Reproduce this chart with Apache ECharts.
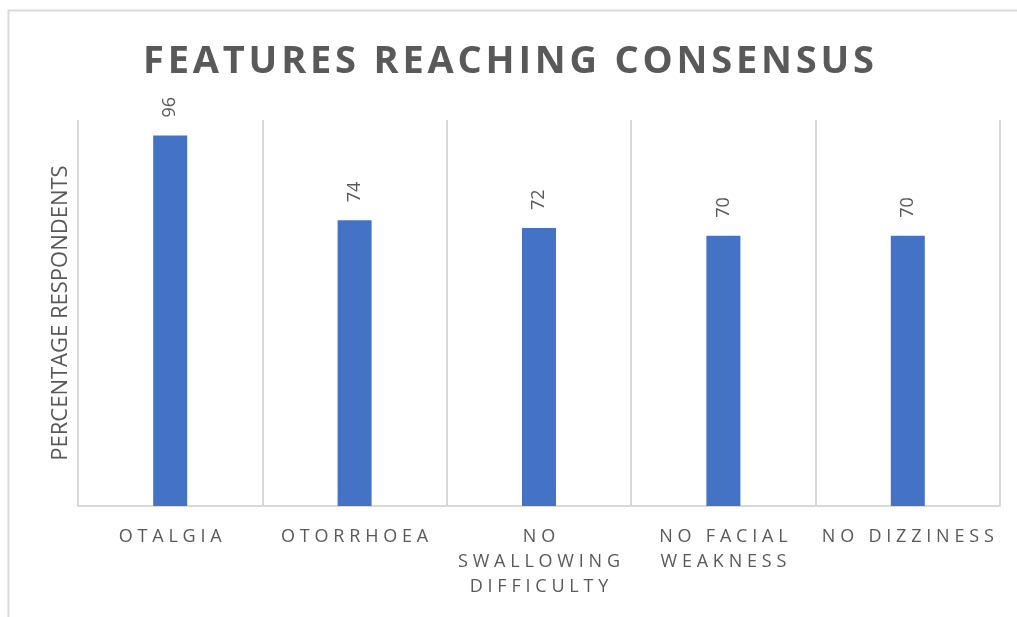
<!DOCTYPE html>
<html>
<head>
<meta charset="utf-8">
<script src="https://cdn.jsdelivr.net/npm/echarts@6/dist/echarts.min.js"></script>
<style>
html,body{margin:0;padding:0;background:#fff;}
#chart{width:1017px;height:617px;}
</style>
</head>
<body>
<div id="chart"></div>
<script>
const titleText = 'FEATURES REACHING CONSENSUS';
const yAxisTitle = 'PERCENTAGE RESPONDENTS';
const categories = ['OTALGIA', 'OTORRHOEA', 'NO\nSWALLOWING\nDIFFICULTY', 'NO FACIAL\nWEAKNESS', 'NO DIZZINESS'];
const values = [96, 74, 72, 70, 70];

function spaced(s, sp) {
  return s.split('\n').map(l => Array.from(l).join(sp)).join('\n');
}

const chart = echarts.init(document.getElementById('chart'));
chart.setOption({
  animation: false,
  backgroundColor: '#ffffff',
  graphic: [{
    type: 'rect',
    shape: { x: 8.5, y: 10.5, width: 1100, height: 700 },
    style: { fill: 'none', stroke: '#d9d9d9', lineWidth: 2 },
    silent: true
  }],
  title: {
    text: spaced(titleText, '\u200A'),
    left: 'center',
    top: 38,
    textStyle: {
      fontFamily: 'Open Sans',
      fontWeight: 'bold',
      fontSize: 38,
      color: '#595959'
    }
  },
  grid: { left: 78, right: 17, top: 120, bottom: 111, containLabel: false },
  xAxis: {
    type: 'category',
    data: categories,
    axisLine: { show: true, lineStyle: { color: '#d9d9d9', width: 2 } },
    axisTick: { show: false },
    splitLine: { show: true, lineStyle: { color: '#d9d9d9', width: 2 } },
    axisLabel: {
      interval: 0,
      margin: 18,
      fontFamily: 'Open Sans',
      fontSize: 18,
      lineHeight: 25,
      color: '#595959',
      formatter: v => spaced(v, '\u2009\u200A')
    }
  },
  yAxis: {
    type: 'value',
    min: 0,
    max: 100,
    interval: 20,
    name: yAxisTitle,
    nameLocation: 'middle',
    nameRotate: 90,
    nameGap: 6,
    nameTextStyle: { fontFamily: 'Open Sans', fontSize: 22, color: '#595959' },
    axisLine: { show: false },
    axisTick: { show: false },
    axisLabel: { show: false },
    splitLine: { show: false }
  },
  series: [{
    type: 'bar',
    data: values,
    barWidth: 34,
    itemStyle: { color: '#4472C4' },
    label: {
      show: true,
      position: 'top',
      rotate: 90,
      align: 'left',
      verticalAlign: 'middle',
      distance: 18,
      fontFamily: 'Open Sans',
      fontSize: 18,
      color: '#595959'
    }
  }]
});
</script>
</body>
</html>
